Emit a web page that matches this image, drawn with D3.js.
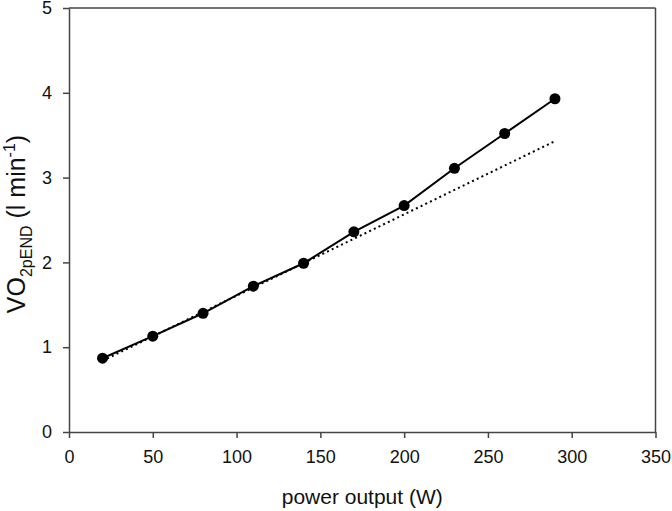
<!DOCTYPE html>
<html>
<head>
<meta charset="utf-8">
<script src="https://cdn.jsdelivr.net/npm/d3@7"></script>
<style>
  html, body { margin: 0; padding: 0; background: #fff; }
  svg { display: block; font-family: "Liberation Sans", Arial, sans-serif; }
</style>
</head>
<body>
<svg id="chart" width="672" height="511"></svg>
<script>
// Data
const powerOutput = [20, 50, 80, 110, 140, 170, 200, 230, 260, 290];
const vo2pEnd = [0.87, 1.13, 1.40, 1.72, 1.99, 2.36, 2.67, 3.11, 3.52, 3.93];
const fitX = [20, 290];
const fitY = [0.84, 3.43];
const xTicks = [0, 50, 100, 150, 200, 250, 300, 350];
const yTicks = [0, 1, 2, 3, 4, 5];

const svg = d3.select("#chart");
const mLeft = 69, mTop = 8, mRight = 655.5, mBottom = 432;

const x = d3.scaleLinear().domain([0, 350]).range([mLeft, mRight]);
const y = d3.scaleLinear().domain([0, 5]).range([mBottom, mTop]);

const axisColor = "#444";
const fmt = d3.format("d");

// frame top and right
svg.append("line").attr("x1", mLeft).attr("x2", mRight).attr("y1", mTop).attr("y2", mTop)
  .attr("stroke", axisColor).attr("stroke-width", 1.5);
svg.append("line").attr("x1", mRight).attr("x2", mRight).attr("y1", mTop).attr("y2", mBottom)
  .attr("stroke", axisColor).attr("stroke-width", 1.5);

const xAxis = svg.append("g").attr("transform", `translate(0,${mBottom})`)
  .call(d3.axisBottom(x).tickValues(xTicks).tickFormat(fmt).tickSize(6).tickPadding(12).tickSizeOuter(0));
const yAxis = svg.append("g").attr("transform", `translate(${mLeft},0)`)
  .call(d3.axisLeft(y).tickValues(yTicks).tickFormat(fmt).tickSize(6).tickPadding(11).tickSizeOuter(0));

[xAxis, yAxis].forEach(g => {
  g.select(".domain").attr("stroke", axisColor).attr("stroke-width", 1.5);
  g.selectAll(".tick line").attr("stroke", axisColor).attr("stroke-width", 1.5);
  g.selectAll(".tick text").attr("fill", "#111").style("font-size", "18px")
    .style("font-family", "'Liberation Sans', Arial, sans-serif");
});

// dotted fit line
const fitData = fitX.map((d, i) => [d, fitY[i]]);
svg.append("path").datum(fitData)
  .attr("d", d3.line().x(d => x(d[0])).y(d => y(d[1])))
  .attr("fill", "none").attr("stroke", "#000").attr("stroke-width", 2)
  .attr("stroke-dasharray", "2,3.2");

// data line
const data = powerOutput.map((d, i) => [d, vo2pEnd[i]]);
svg.append("path").datum(data)
  .attr("d", d3.line().x(d => x(d[0])).y(d => y(d[1])))
  .attr("fill", "none").attr("stroke", "#000").attr("stroke-width", 2);

svg.selectAll("circle.pt").data(data).enter().append("circle")
  .attr("class", "pt")
  .attr("cx", d => x(d[0])).attr("cy", d => y(d[1])).attr("r", 5.5)
  .attr("fill", "#000");

// x title
svg.append("text").attr("x", (mLeft + mRight) / 2).attr("y", 504)
  .attr("text-anchor", "middle").style("font-size", "21px").attr("fill", "#111")
  .text("power output (W)");

// y title
const yt = svg.append("text")
  .attr("transform", `translate(25,${(mTop + mBottom) / 2 + 4}) rotate(-90)`)
  .attr("text-anchor", "middle").style("font-size", "25px").attr("fill", "#111");
yt.append("tspan").text("VO");
yt.append("tspan").attr("dy", 7).style("font-size", "16px").text("2pEND");
yt.append("tspan").attr("dy", -7).text(" (l min");
yt.append("tspan").attr("dy", -10).style("font-size", "16px").text("-1");
yt.append("tspan").attr("dy", 10).text(")");
</script>
</body>
</html>
